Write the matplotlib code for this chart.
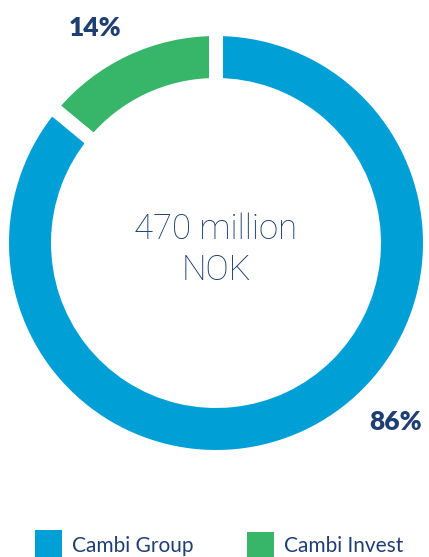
import matplotlib
matplotlib.use("Agg")
import matplotlib.pyplot as plt
from matplotlib.patches import Rectangle

# Data
categories = ["Cambi Invest", "Cambi Group"]
shares = [14, 86]
colors = ["#37B66A", "#009FD6"]
pct_labels = ["14%", "86%"]
center_text = "470 million\nNOK"
legend_order = ["Cambi Group", "Cambi Invest"]

W, H = 429, 557
fig = plt.figure(figsize=(W / 100, H / 100), dpi=100)
ax = fig.add_axes([0, 0, 1, 1])

def Y(py):
    return H - py

navy = "#1F3F72"
cx, cy = 216, Y(243)
gap_px = 14
lw_pt = gap_px * 72 / 100
R_vis, ring_vis = 207, 42

ax.pie(shares, colors=colors, startangle=90, counterclock=True,
       center=(cx, cy), radius=R_vis + gap_px / 2,
       wedgeprops=dict(width=ring_vis + gap_px, edgecolor="white", linewidth=lw_pt))

ax.set_xlim(0, W)
ax.set_ylim(0, H)
ax.set_aspect("equal")
ax.axis("off")

ax.text(cx, Y(250), center_text, ha="center", va="center", fontsize=25,
        family="Roboto", fontweight="light", color="#1A3A6E", linespacing=1.3)

ax.text(95, Y(28), pct_labels[0], ha="center", va="center", fontsize=19,
        family="Lato", fontweight="heavy", color=navy)
ax.text(396, Y(422), pct_labels[1], ha="center", va="center", fontsize=19,
        family="Lato", fontweight="heavy", color=navy)

# Legend
leg_items = [(35, 530, legend_order[0], colors[1]), (247, 532, legend_order[1], colors[0])]
for x0, y0, lab, col in leg_items:
    ax.add_patch(Rectangle((x0, Y(y0 + 27)), 27, 27, facecolor=col, edgecolor="none", clip_on=False))
    ax.text(x0 + 37, Y(546), lab, ha="left", va="center", fontsize=15,
            family="Lato", color=navy)

fig.savefig("out.png", dpi=100)
